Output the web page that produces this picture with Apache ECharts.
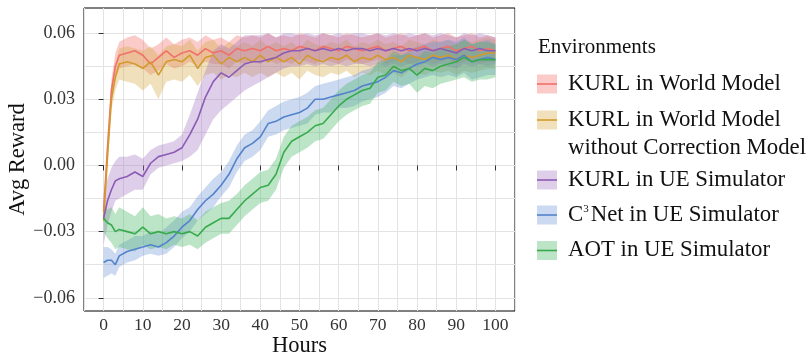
<!DOCTYPE html>
<html><head><meta charset="utf-8">
<script src="https://cdn.jsdelivr.net/npm/echarts@6/dist/echarts.min.js"></script>
<style>html,body{margin:0;padding:0;background:#fff}#c{width:812px;height:358px}</style>
</head><body><div id="c"></div>
<script>
const hours = [0,1,2,3,4,6,8,10,12,14,16,18,20,22,24,26,28,30,32,34,36,38,40,42,44,46,48,50,52,54,56,58,60,62,64,66,68,70,72,74,76,78,80,82,84,86,88,90,92,94,96,98,100];
const xTicks = [0,10,20,30,40,50,60,70,80,90,100];
const yTicks = [-0.06,-0.03,0,0.03,0.06];
const yGrid = [-0.06,-0.045,-0.03,-0.015,0,0.015,0.03,0.045,0.06];
const names = ['KURL in World Model','KURL in World Model\nwithout Correction Model','KURL in UE Simulator','C{s|3}Net in UE Simulator','AOT in UE Simulator'];

const kurlWM = [-0.021,0.008,0.034,0.045,0.050,
 0.051,0.052,0.050,0.046,0.049,0.052,0.049,0.051,0.052,0.050,
 0.053,0.051,0.052,0.050,0.053,0.052,0.053,0.052,0.054,0.052,
 0.053,0.052,0.054,0.053,0.052,0.054,0.053,0.052,0.054,0.053,
 0.052,0.053,0.054,0.052,0.053,0.054,0.052,0.053,0.054,0.052,
 0.053,0.054,0.052,0.053,0.054,0.052,0.053,0.052];
const kurlWMLo = [-0.024,0.003,0.029,0.039,0.044,
 0.045,0.046,0.044,0.041,0.043,0.046,0.044,0.045,0.047,0.045,
 0.047,0.046,0.046,0.044,0.047,0.046,0.047,0.046,0.048,0.046,
 0.047,0.046,0.048,0.047,0.046,0.048,0.047,0.046,0.048,0.047,
 0.046,0.047,0.048,0.046,0.047,0.048,0.046,0.047,0.048,0.046,
 0.047,0.048,0.046,0.047,0.048,0.046,0.047,0.047];
const kurlWMHi = [-0.017,0.013,0.039,0.051,0.056,
 0.058,0.059,0.057,0.053,0.055,0.058,0.055,0.057,0.058,0.056,
 0.059,0.057,0.058,0.056,0.059,0.058,0.059,0.058,0.060,0.058,
 0.059,0.058,0.060,0.059,0.058,0.060,0.059,0.058,0.060,0.059,
 0.058,0.059,0.060,0.058,0.059,0.060,0.058,0.059,0.060,0.058,
 0.059,0.060,0.058,0.059,0.060,0.058,0.059,0.058];

const kurlNoCorr = [-0.025,0.004,0.030,0.040,0.046,
 0.047,0.046,0.044,0.047,0.041,0.047,0.048,0.047,0.050,0.044,
 0.049,0.050,0.046,0.049,0.047,0.049,0.047,0.050,0.047,0.049,
 0.047,0.049,0.046,0.050,0.048,0.047,0.049,0.048,0.050,0.047,
 0.049,0.048,0.050,0.048,0.049,0.047,0.050,0.049,0.048,0.050,
 0.049,0.050,0.048,0.050,0.049,0.050,0.051,0.051];
const kurlNoCorrLo = [-0.027,0.000,0.025,0.034,0.039,
 0.038,0.037,0.034,0.037,0.030,0.038,0.039,0.038,0.041,0.036,
 0.041,0.042,0.039,0.041,0.040,0.042,0.040,0.042,0.040,0.042,
 0.040,0.042,0.039,0.043,0.041,0.040,0.042,0.041,0.043,0.040,
 0.042,0.041,0.043,0.041,0.042,0.040,0.043,0.042,0.041,0.043,
 0.042,0.043,0.041,0.043,0.042,0.043,0.044,0.044];
const kurlNoCorrHi = [-0.022,0.008,0.035,0.046,0.053,
 0.054,0.053,0.052,0.054,0.050,0.054,0.055,0.054,0.057,0.052,
 0.056,0.057,0.053,0.056,0.054,0.056,0.054,0.057,0.054,0.056,
 0.054,0.056,0.053,0.057,0.055,0.054,0.056,0.055,0.057,0.054,
 0.056,0.055,0.057,0.055,0.056,0.054,0.057,0.056,0.055,0.057,
 0.056,0.057,0.055,0.057,0.056,0.057,0.058,0.057];

const kurlUE = [-0.024,-0.016,-0.011,-0.007,-0.006,
 -0.005,-0.003,-0.005,0.001,0.004,0.005,0.006,0.008,0.014,0.021,
 0.031,0.038,0.042,0.040,0.043,0.046,0.047,0.047,0.048,0.049,
 0.051,0.052,0.052,0.053,0.052,0.053,0.052,0.053,0.052,0.053,
 0.053,0.052,0.053,0.052,0.053,0.052,0.053,0.052,0.053,0.052,
 0.053,0.052,0.051,0.053,0.052,0.053,0.052,0.052];
const kurlUELo = [-0.036,-0.027,-0.021,-0.016,-0.015,
 -0.013,-0.011,-0.011,-0.004,-0.001,0.000,0.001,0.002,0.004,0.007,
 0.014,0.021,0.025,0.028,0.031,0.034,0.036,0.038,0.040,0.042,
 0.044,0.045,0.045,0.046,0.045,0.046,0.045,0.046,0.045,0.046,
 0.046,0.045,0.046,0.045,0.046,0.045,0.046,0.045,0.046,0.045,
 0.046,0.045,0.044,0.046,0.045,0.046,0.045,0.046];
const kurlUEHi = [-0.013,-0.006,-0.001,0.002,0.004,
 0.004,0.005,0.003,0.007,0.009,0.010,0.011,0.014,0.023,0.033,
 0.043,0.052,0.055,0.053,0.056,0.059,0.059,0.059,0.060,0.058,
 0.060,0.060,0.059,0.060,0.059,0.060,0.059,0.060,0.059,0.060,
 0.060,0.059,0.060,0.059,0.060,0.059,0.060,0.059,0.060,0.059,
 0.060,0.059,0.058,0.060,0.059,0.060,0.059,0.058];

const c3net = [-0.044,-0.043,-0.043,-0.045,-0.041,
 -0.039,-0.038,-0.037,-0.036,-0.037,-0.035,-0.032,-0.028,-0.025,-0.020,
 -0.016,-0.013,-0.009,-0.004,0.003,0.008,0.010,0.013,0.019,0.020,
 0.022,0.023,0.024,0.026,0.030,0.030,0.031,0.032,0.033,0.034,
 0.036,0.037,0.038,0.040,0.043,0.042,0.044,0.046,0.047,0.049,
 0.048,0.049,0.048,0.050,0.047,0.048,0.049,0.048];
const c3netLo = [-0.051,-0.050,-0.049,-0.050,-0.046,
 -0.044,-0.043,-0.041,-0.040,-0.041,-0.040,-0.037,-0.033,-0.030,-0.025,
 -0.022,-0.019,-0.014,-0.010,-0.003,0.002,0.004,0.007,0.013,0.014,
 0.016,0.017,0.018,0.019,0.023,0.024,0.024,0.026,0.026,0.027,
 0.029,0.030,0.031,0.033,0.036,0.035,0.037,0.039,0.040,0.041,
 0.040,0.041,0.040,0.042,0.039,0.040,0.041,0.041];
const c3netHi = [-0.037,-0.037,-0.038,-0.040,-0.036,
 -0.034,-0.032,-0.032,-0.030,-0.031,-0.028,-0.025,-0.021,-0.019,-0.014,
 -0.010,-0.006,-0.003,0.002,0.009,0.014,0.016,0.020,0.025,0.027,
 0.029,0.030,0.031,0.033,0.036,0.037,0.038,0.039,0.040,0.041,
 0.043,0.044,0.046,0.047,0.050,0.050,0.052,0.054,0.055,0.056,
 0.056,0.057,0.056,0.058,0.055,0.056,0.057,0.055];

const aot = [-0.024,-0.026,-0.027,-0.030,-0.029,
 -0.030,-0.031,-0.028,-0.031,-0.030,-0.031,-0.030,-0.031,-0.030,-0.032,
 -0.028,-0.026,-0.024,-0.024,-0.020,-0.016,-0.013,-0.010,-0.009,-0.004,
 0.006,0.011,0.013,0.015,0.018,0.019,0.023,0.027,0.030,0.032,
 0.034,0.035,0.040,0.041,0.045,0.043,0.044,0.041,0.044,0.043,
 0.045,0.046,0.047,0.049,0.047,0.048,0.048,0.048];
const aotLo = [-0.030,-0.033,-0.035,-0.038,-0.037,
 -0.038,-0.039,-0.036,-0.038,-0.037,-0.038,-0.036,-0.037,-0.036,-0.038,
 -0.035,-0.033,-0.031,-0.031,-0.027,-0.023,-0.020,-0.017,-0.016,-0.011,
 -0.001,0.004,0.006,0.008,0.011,0.012,0.016,0.020,0.023,0.025,
 0.027,0.028,0.033,0.034,0.038,0.036,0.037,0.033,0.036,0.035,
 0.037,0.038,0.039,0.040,0.038,0.039,0.039,0.040];
const aotHi = [-0.018,-0.020,-0.019,-0.022,-0.019,
 -0.021,-0.023,-0.019,-0.023,-0.022,-0.024,-0.023,-0.024,-0.022,-0.025,
 -0.021,-0.019,-0.017,-0.016,-0.013,-0.009,-0.006,-0.003,-0.002,0.003,
 0.013,0.018,0.020,0.022,0.025,0.026,0.030,0.034,0.037,0.039,
 0.041,0.042,0.047,0.048,0.052,0.050,0.051,0.049,0.052,0.051,
 0.053,0.054,0.055,0.057,0.055,0.056,0.056,0.055];

const lineColors = ['#F0706A','#D29A2C','#8B5CB5','#5482CC','#37AB4C'];
const fillColors = ['rgba(240,112,106,0.36)','rgba(214,170,70,0.36)','rgba(160,110,190,0.34)','rgba(110,150,215,0.36)','rgba(70,180,100,0.36)'];
const means = [kurlWM,kurlNoCorr,kurlUE,c3net,aot];
const los = [kurlWMLo,kurlNoCorrLo,kurlUELo,c3netLo,aotLo];
const his = [kurlWMHi,kurlNoCorrHi,kurlUEHi,c3netHi,aotHi];

const FONT = 'Liberation Serif';
const chart = echarts.init(document.getElementById('c'), null, {renderer:'canvas'});

const series = [];
means.forEach((m, k) => {
  const lo = los[k], hi = his[k];
  series.push({
    type:'custom', xAxisIndex:0, yAxisIndex:0, silent:true, z:2, clip:true,
    data: hours.map((h,i)=>[h, lo[i], hi[i]]),
    encode:{x:0, y:[1,2]},
    renderItem:(params, api) => {
      if (params.dataIndex !== 0) return null;
      const pts = [];
      for (let i=0;i<hours.length;i++) pts.push(api.coord([hours[i], hi[i]]));
      for (let i=hours.length-1;i>=0;i--) pts.push(api.coord([hours[i], lo[i]]));
      return {type:'polygon', shape:{points:pts}, style:{fill:fillColors[k], stroke:null}};
    }
  });
});
means.forEach((m, k) => {
  series.push({
    type:'line', xAxisIndex:0, yAxisIndex:0, z:5+k, silent:true,
    showSymbol:false, symbol:'none',
    data: hours.map((h,i)=>[h, m[i]]),
    lineStyle:{color:lineColors[k], width:1.6}
  });
});

const yMin = -0.066, yMax = 0.0714;
const fmtY = v => { const s = Math.abs(v).toFixed(2); return v < -1e-9 ? '\u2212' + s : s; };

// legend (graphic)
const legendEls = [{type:'text', x:538, y:47, style:{text:'Environments', font:'21px "Liberation Serif"', fill:'#111', verticalAlign:'middle'}}];
const itemY = [84, 120, 180, 215, 250.5];
names.forEach((n, k) => {
  const cy = itemY[k];
  legendEls.push({type:'rect', shape:{x:537, y:cy-9.5, width:20, height:19}, style:{fill:fillColors[k]}});
  legendEls.push({type:'line', shape:{x1:537, y1:cy, x2:557, y2:cy}, style:{stroke:lineColors[k], lineWidth:1.6}});
  const lines = n.split('\n');
  lines.forEach((t, j) => {
    legendEls.push({type:'text', x:568, y:cy + j*28, style:{text:t, font:'22.8px "Liberation Serif"', fill:'#111', verticalAlign:'middle', align:'left',
      rich:{s:{fontSize:11, fontFamily:FONT, verticalAlign:'top', padding:[0,2,8,0], fill:'#111'}}}});
  });
});

chart.setOption({
  animation:false,
  backgroundColor:'#fff',
  grid:{left:84, top:8, width:431, height:303, show:true, borderColor:'#000', borderWidth:1, backgroundColor:'transparent', containLabel:false, outerBoundsMode:'none'},
  xAxis:[
    {type:'value', min:-5, max:105, interval:5, axisLine:{show:false}, axisTick:{show:false}, axisLabel:{show:false},
     splitLine:{show:true, lineStyle:{color:'#e3e3e3', width:1}}},
    {type:'value', min:-5, max:105, position:'bottom', axisLine:{show:false},
     axisTick:{show:true, customValues:xTicks, length:5, lineStyle:{color:'#333'}},
     axisLabel:{customValues:xTicks, color:'#333', fontFamily:FONT, fontSize:17.5, margin:5},
     splitLine:{show:false},
     name:'Hours', nameLocation:'middle', nameGap:24, nameMoveOverlap:false, nameTextStyle:{fontFamily:FONT, fontSize:22.5, color:'#111'}}
  ],
  yAxis:[
    {type:'value', min:yMin, max:yMax, axisLine:{show:false}, axisTick:{show:false, customValues:yGrid}, axisLabel:{show:false, customValues:yGrid},
     splitLine:{show:true, lineStyle:{color:'#e3e3e3', width:1}}},
    {type:'value', min:yMin, max:yMax, position:'left', axisLine:{show:false},
     axisTick:{show:true, customValues:yTicks, length:5, lineStyle:{color:'#333'}},
     axisLabel:{customValues:yTicks, formatter:fmtY, color:'#333', fontFamily:FONT, fontSize:18, margin:9},
     splitLine:{show:false},
     name:'Avg Reward', nameLocation:'middle', nameGap:54, nameMoveOverlap:false, nameTextStyle:{fontFamily:FONT, fontSize:22.5, color:'#111'}}
  ],
  graphic: legendEls,
  series: series
});
</script></body></html>
